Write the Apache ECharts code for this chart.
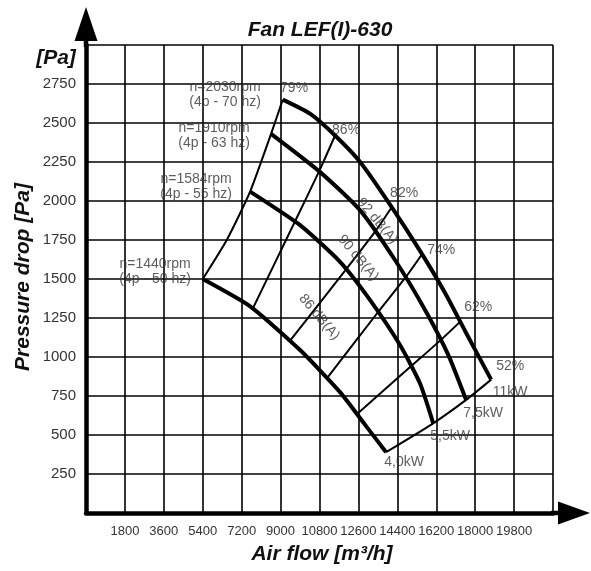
<!DOCTYPE html>
<html><head><meta charset="utf-8">
<script src="https://cdn.jsdelivr.net/npm/echarts/dist/echarts.min.js"></script>
<style>html,body{margin:0;padding:0;background:#fff}#c{width:591px;height:571px}</style>
</head><body><div id="c"></div>
<script>
// ---- data ----
const xTickLabels = [1800,3600,5400,7200,9000,10800,12600,14400,16200,18000,19800];
const yTickLabels = [250,500,750,1000,1250,1500,1750,2000,2250,2500,2750];

const fan2030 = [[9100,2650],[10360,2560],[11520,2420],[12680,2250],[14070,1975],[15450,1680],[16610,1410],[17540,1165],[18740,855]];
const fan1910 = [[8560,2430],[10830,2185],[12680,1940],[14300,1620],[15690,1300],[16750,1015],[17580,725]];
const fan1584 = [[7590,2060],[9900,1845],[11750,1610],[13140,1365],[14530,1075],[15450,830],[16060,575]];
const fan1440 = [[5400,1500],[7590,1325],[9900,1045],[11750,775],[12910,565],[13880,390]];

const iso79 = [[5400,1500],[6510,1750],[7590,2060],[8560,2430],[9100,2650]];
const iso86 = [[7730,1315],[9670,1870],[10780,2190],[11520,2420]];
const iso82 = [[9440,1105],[12020,1560],[13380,1805],[14140,1960]];
const iso74 = [[11150,865],[13520,1290],[14780,1510],[15550,1660]];
const iso62 = [[12540,635],[15030,940],[16380,1105],[17300,1225]];
const isoPower = [[13880,390],[16060,575],[17580,725],[18740,855]];

const annoText = ['79%','86%','82%','74%','62%','52%','11kW','7,5kW','5,5kW','4,0kW',
  'n=2030rpm\n(4p - 70 hz)','n=1910rpm\n(4p - 63 hz)','n=1584rpm\n(4p - 55 hz)','n=1440rpm\n(4p - 50 hz)'];
const annoPos = [[9624,2724],[12030,2455],[14714,2051],[16426,1686],[18138,1320],[19618,942],[19618,776],[18369,641],[16842,494],[14714,327],
  [6432,2679],[5923,2420],[5090,2090],[3193,1548]];
const dbText = ['92 dB(A)','90 dB(A)','86 dB(A)'];
const dbPos = [[13465,1872],[12585,1635],[10781,1256]];

// ---- chart ----
const FONT = 'Liberation Sans, Arial, sans-serif';
const chart = echarts.init(document.getElementById('c'), null, {renderer:'canvas'});
const thick = d => ({type:'line', data:d, showSymbol:false, symbol:'none', smooth:0.2, silent:true,
  lineStyle:{color:'#000', width:4}, z:5});
const thin = d => ({type:'line', data:d, showSymbol:false, symbol:'none', smooth:0.2, silent:true,
  lineStyle:{color:'#000', width:2}, z:4});
const labelSeries = (texts, pos, rot) => ({
  type:'scatter', symbolSize:1, itemStyle:{color:'rgba(0,0,0,0)'}, silent:true, z:6,
  data: pos.map((p,i)=>({value:p, name:texts[i]})),
  label:{show:true, position:'inside', formatter:p=>p.name, rotate:rot,
    fontFamily:FONT, fontSize:14, color:'#333', lineHeight:15}
});

chart.setOption({
  animation:false,
  grid:{left:86, top:45, width:467, height:468},
  xAxis:{type:'value', min:0, max:21600, interval:1800,
    axisLine:{show:true, lineStyle:{color:'#000', width:4.5}},
    axisTick:{show:false},
    splitLine:{show:true, lineStyle:{color:'#000', width:1.6}},
    axisLabel:{fontFamily:FONT, fontSize:13, color:'#333', margin:12,
      formatter:v=> xTickLabels.includes(v) ? String(v) : ''}},
  yAxis:{type:'value', min:0, max:3000, interval:250,
    axisLine:{show:true, lineStyle:{color:'#000', width:4.5}},
    axisTick:{show:false},
    splitLine:{show:true, lineStyle:{color:'#000', width:1.6}},
    axisLabel:{fontFamily:FONT, fontSize:15, color:'#333', margin:10,
      formatter:v=> yTickLabels.includes(v) ? String(v) : ''}},
  series:[
    thick(fan2030), thick(fan1910), thick(fan1584), thick(fan1440),
    thin(iso79), thin(iso86), thin(iso82), thin(iso74), thin(iso62), thin(isoPower),
    labelSeries(annoText, annoPos, 0),
    labelSeries(dbText, dbPos, -50)
  ]
});

// axis arrows and axis titles
const o = chart.convertToPixel({gridIndex:0},[0,0]);
const tr = chart.convertToPixel({gridIndex:0},[21600,3000]);
const titleStyle = {fontFamily:FONT, fontSize:21, fontWeight:'bold', fontStyle:'italic', fill:'#111'};
chart.setOption({graphic:[
  {type:'rect', shape:{x:o[0]-2.25, y:tr[1]-6, width:4.5, height:8}, style:{fill:'#000'}},
  {type:'polygon', shape:{points:[[o[0]-11.5,tr[1]-4],[o[0]+11.5,tr[1]-4],[o[0],tr[1]-38]]}, style:{fill:'#000'}},
  {type:'rect', shape:{x:tr[0]-2, y:o[1]-2.25, width:8, height:4.5}, style:{fill:'#000'}},
  {type:'polygon', shape:{points:[[tr[0]+5,o[1]-11.5],[tr[0]+5,o[1]+11.5],[tr[0]+37,o[1]]]}, style:{fill:'#000'}},
  {type:'text', x:320, y:30, style:Object.assign({text:'Fan LEF(I)-630', textAlign:'center', textVerticalAlign:'middle'}, titleStyle)},
  {type:'text', x:56, y:58, style:Object.assign({text:'[Pa]', textAlign:'center', textVerticalAlign:'middle'}, titleStyle)},
  {type:'text', x:322, y:554, style:Object.assign({text:'Air flow [m³/h]', textAlign:'center', textVerticalAlign:'middle'}, titleStyle)},
  {type:'text', x:23, y:277, rotation:Math.PI/2, style:Object.assign({text:'Pressure drop [Pa]', textAlign:'center', textVerticalAlign:'middle'}, titleStyle)}
]});
</script></body></html>
